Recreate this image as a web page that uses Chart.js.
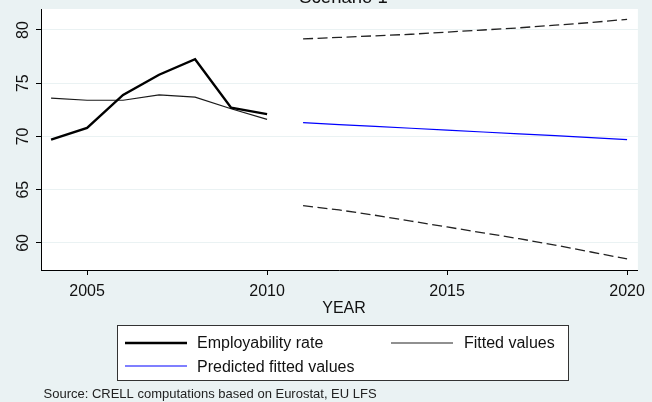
<!DOCTYPE html>
<html>
<head>
<meta charset="utf-8">
<script src="https://cdn.jsdelivr.net/npm/chart.js@4.4.1/dist/chart.umd.min.js"></script>
<style>
  html, body { margin: 0; padding: 0; background: #eaf2f3; }
  canvas { display: block; }
</style>
</head>
<body>
<canvas id="scenarioChart" width="652" height="402"></canvas>
<script>
// observed period
const pastYears = [2004, 2005, 2006, 2007, 2008, 2009, 2010];
const employabilityRate = [69.7, 70.8, 73.9, 75.8, 77.25, 72.7, 72.1];
const fittedValues = [73.6, 73.4, 73.4, 73.9, 73.7, 72.6, 71.6];

// forecast period
const forecastYears = [2011, 2012, 2013, 2014, 2015, 2016, 2017, 2018, 2019, 2020];
const predictedFitted = [71.3, 71.12, 70.95, 70.77, 70.6, 70.42, 70.25, 70.07, 69.9, 69.7];
const upperBound = [79.16, 79.3, 79.45, 79.6, 79.8, 80.0, 80.2, 80.45, 80.7, 81.0];
const lowerBound = [63.5, 63.1, 62.6, 62.05, 61.5, 60.95, 60.4, 59.8, 59.15, 58.5];

const xTicks = [2005, 2010, 2015, 2020];
const yTicks = [60, 65, 70, 75, 80];

const FONT = 'Liberation Sans, Arial, Helvetica, sans-serif';

function toPoints(xs, ys) {
    return xs.map((x, i) => ({ x: x, y: ys[i] }));
}

// stata-ish background, rotated y labels, titles and legend
const stataLook = {
    id: 'stataLook',
    beforeDraw(chart) {
        const ctx = chart.ctx;
        const a = chart.chartArea;
        ctx.save();
        ctx.fillStyle = '#eaf2f3';
        ctx.fillRect(0, 0, chart.width, chart.height);
        ctx.fillStyle = '#ffffff';
        ctx.fillRect(a.left, a.top, a.right - a.left, a.bottom - a.top);
        ctx.restore();
    },
    afterDraw(chart) {
        const ctx = chart.ctx;
        const yScale = chart.scales.y;
        ctx.save();
        ctx.fillStyle = '#111';

        // y tick labels, vertical
        ctx.font = '16px ' + FONT;
        ctx.textAlign = 'center';
        ctx.textBaseline = 'alphabetic';
        yTicks.forEach(v => {
            ctx.save();
            ctx.translate(27.5, yScale.getPixelForValue(v));
            ctx.rotate(-Math.PI / 2);
            ctx.fillText(String(v), 0, 0);
            ctx.restore();
        });

        // title (cut off at the top)
        ctx.font = '18.5px ' + FONT;
        ctx.fillText('Scenario 1', 343.5, 3);

        // x axis title
        ctx.font = '16px ' + FONT;
        ctx.fillText('YEAR', 344, 313);

        // legend
        ctx.fillStyle = '#ffffff';
        ctx.fillRect(117.5, 325.5, 451, 55);
        ctx.strokeStyle = '#333';
        ctx.lineWidth = 1;
        ctx.strokeRect(117.5, 325.5, 451, 55);

        const drawSample = (x1, x2, y, color, width) => {
            ctx.beginPath();
            ctx.strokeStyle = color;
            ctx.lineWidth = width;
            ctx.moveTo(x1, y);
            ctx.lineTo(x2, y);
            ctx.stroke();
        };
        drawSample(125, 187, 343, '#000', 2.5);
        drawSample(391, 453, 343, '#222', 1.2);
        drawSample(125, 187, 366, '#0000ff', 1.2);

        ctx.fillStyle = '#111';
        ctx.textAlign = 'left';
        ctx.font = '16px ' + FONT;
        ctx.fillText('Employability rate', 197, 348);
        ctx.fillText('Fitted values', 464, 348);
        ctx.fillText('Predicted fitted values', 197, 371.5);

        // source note
        ctx.font = '13px ' + FONT;
        ctx.fillStyle = '#222';
        ctx.fillText('Source: CRELL computations based on Eurostat, EU LFS', 43.5, 397.5);
        ctx.restore();
    }
};

const chartData = {
    datasets: [
        {
            label: 'Employability rate',
            data: toPoints(pastYears, employabilityRate),
            borderColor: '#000000',
            borderWidth: 2.4
        },
        {
            label: 'Fitted values',
            data: toPoints(pastYears, fittedValues),
            borderColor: '#1a1a1a',
            borderWidth: 1.2
        },
        {
            label: 'Predicted fitted values',
            data: toPoints(forecastYears, predictedFitted),
            borderColor: '#0000ff',
            borderWidth: 1.2
        },
        {
            label: 'Upper bound',
            data: toPoints(forecastYears, upperBound),
            borderColor: '#222222',
            borderWidth: 1.3,
            borderDash: [10, 4.5]
        },
        {
            label: 'Lower bound',
            data: toPoints(forecastYears, lowerBound),
            borderColor: '#222222',
            borderWidth: 1.3,
            borderDash: [10, 4.5]
        }
    ]
};

const chartConfig = {
    type: 'line',
    data: chartData,
    options: {
        responsive: false,
        animation: false,
        devicePixelRatio: 1,
        elements: {
            point: { radius: 0 },
            line: { tension: 0, fill: false }
        },
        layout: { padding: { top: 9, right: 7, left: 0, bottom: 0 } },
        plugins: {
            legend: { display: false },
            tooltip: { enabled: false },
            title: { display: false }
        },
        scales: {
            x: {
                type: 'linear',
                min: 2003.72,
                max: 2020.3,
                afterBuildTicks: s => { s.ticks = xTicks.map(v => ({ value: v })); },
                afterFit: s => { s.height = 132; },
                grid: {
                    drawOnChartArea: false,
                    drawTicks: true,
                    tickLength: 5,
                    tickColor: '#000'
                },
                border: { color: '#000', width: 1 },
                ticks: {
                    color: '#111',
                    font: { family: FONT, size: 16 },
                    padding: 7,
                    maxRotation: 0,
                    autoSkip: false,
                    callback: v => String(v)
                }
            },
            y: {
                type: 'linear',
                min: 57.46,
                max: 81.97,
                afterBuildTicks: s => { s.ticks = yTicks.map(v => ({ value: v })); },
                afterFit: s => { s.width = 41; },
                grid: {
                    color: '#eaf2f3',
                    lineWidth: 1,
                    drawTicks: true,
                    tickLength: 5,
                    tickColor: '#000'
                },
                border: { color: '#000', width: 1 },
                ticks: { display: false }
            }
        }
    },
    plugins: [stataLook]
};

const myChart = new Chart(document.getElementById('scenarioChart'), chartConfig);
</script>
</body>
</html>
